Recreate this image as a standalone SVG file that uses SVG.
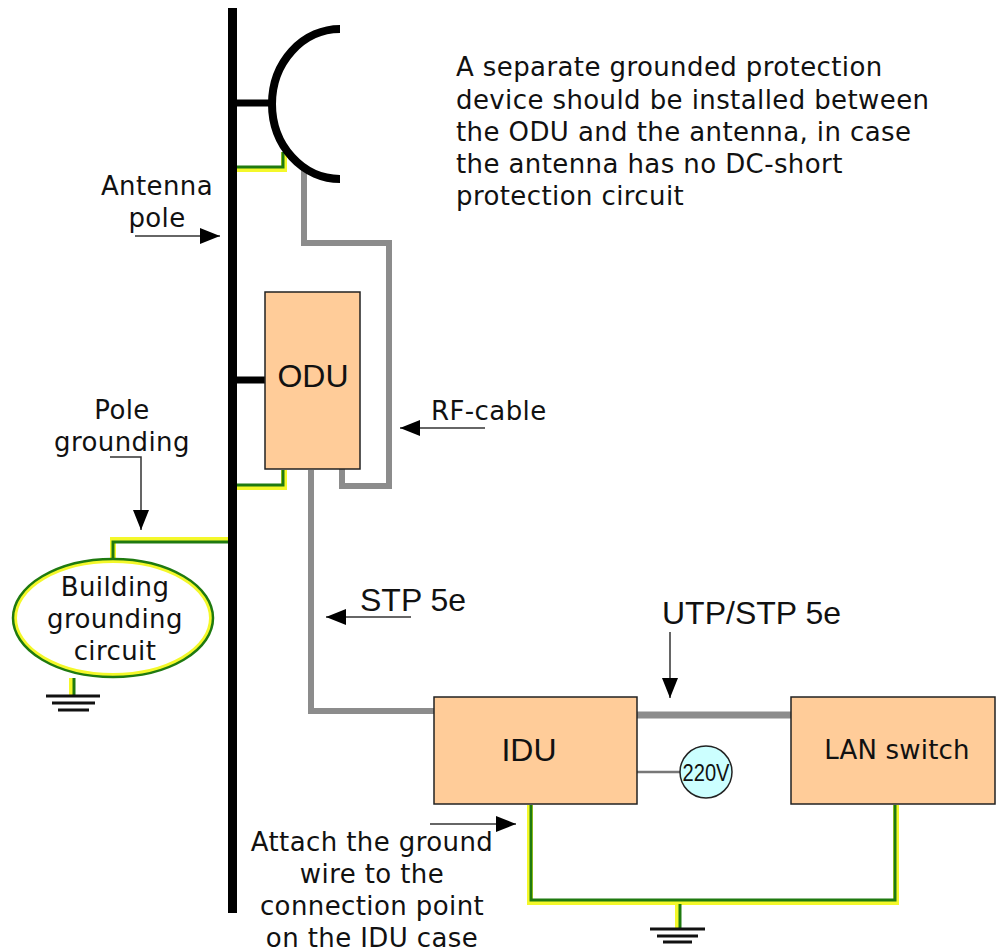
<svg xmlns="http://www.w3.org/2000/svg" width="998" height="952" viewBox="0 0 998 952">
<style>
text{font-family:"DejaVu Sans",sans-serif;font-size:26px;fill:#111;letter-spacing:.4px}
.m{text-anchor:middle}
.l{font-family:"Liberation Sans",Arial,sans-serif;letter-spacing:0}
.box{fill:#ffcc99;stroke:#222;stroke-width:1.5}
.blk{fill:none;stroke:#000;stroke-width:7}
.gry{fill:none;stroke:#8c8c8c;stroke-width:6}
.yel{fill:none;stroke:#f4f82a;stroke-width:6}
.grn{fill:none;stroke:#1f7a10;stroke-width:3}
.arr{fill:none;stroke:#333;stroke-width:1.5;marker-end:url(#a)}
.gnd{stroke:#111;stroke-width:3}
</style>
<defs>
<marker id="a" markerUnits="userSpaceOnUse" markerWidth="20" markerHeight="16" refX="20" refY="8" orient="auto"><path d="M0 0L20 8L0 16Z" fill="#000"/></marker>
</defs>
<rect width="998" height="952" fill="#fff"/>
<g id="connectors">
<path class="gry" d="M304 170V243H389V486H342V469"/>
<path class="gry" d="M311 470V711H434"/>
<path class="gry" d="M637 715H791" style="stroke-width:7"/>
<path d="M637 772H681" fill="none" stroke="#777" stroke-width="2.5"/>
<path class="yel" d="M237 169H284V152"/><path class="grn" d="M237 167H283V152"/>
<path class="yel" d="M237 487H284V470"/><path class="grn" d="M237 485H283V470"/>
<path class="yel" d="M228 540H113V560"/><path class="grn" d="M228 542H113V560"/>
<path class="yel" d="M72 678V696"/><path class="grn" d="M74 678V696"/>
<path class="yel" d="M530 805V902H896V805"/><path class="grn" d="M531 805V900H895V805"/>
<path class="yel" d="M678 904V929"/><path class="grn" d="M680 904V929"/>
<path class="arr" d="M135 236H220"/>
<path class="arr" d="M110 457H141V530"/>
<path class="arr" d="M485 428H400"/>
<path class="arr" d="M411 617H326"/>
<path class="arr" d="M670 632V698"/>
<path class="arr" d="M430 824H516"/>
</g>
<g id="pole"><path d="M232.500 8V913" stroke="#000" stroke-width="9" fill="none"/>
<path class="blk" d="M237 103H270M237 380H265"/></g>
<g id="antenna"><path d="M340 29A68 75 0 0 0 340 179" fill="none" stroke="#000" stroke-width="8"/></g>
<g id="odu"><rect class="box" x="265" y="292" width="95" height="177"/><text class="m l" x="313" y="387" style="font-size:32px">ODU</text></g>
<g id="idu"><rect class="box" x="434" y="697" width="203" height="107"/><text class="m l" x="529" y="761" style="font-size:32px">IDU</text></g>
<g id="lan"><rect class="box" x="791" y="697" width="204" height="107"/><text class="m" x="897" y="759" style="font-size:26px;letter-spacing:.2px">LAN switch</text></g>
<g id="v220"><circle cx="706" cy="772" r="26" fill="#ccffff" stroke="#222" stroke-width="1.5"/><text class="m l" x="706" y="781" style="font-size:24px" textLength="47" lengthAdjust="spacingAndGlyphs">220V</text></g>
<g id="building"><ellipse cx="113" cy="618" rx="98" ry="57" fill="#fff" stroke="#f4f82a" stroke-width="4"/><ellipse cx="113" cy="618" rx="100" ry="59" fill="none" stroke="#1f7a10" stroke-width="2.500"/>
<text class="m" x="115" y="596">Building</text><text class="m" x="115" y="628">grounding</text><text class="m" x="115" y="660">circuit</text></g>
<g id="ground1" class="gnd"><path d="M46 696H100M52 703H95M58 710H89"/></g>
<g id="ground2" class="gnd"><path d="M650 929H705M657 936H698M663 942H692"/></g>
<g id="labels">
<text x="456" y="76">A separate grounded protection</text>
<text x="456" y="109">device should be installed between</text>
<text x="456" y="141">the ODU and the antenna, in case</text>
<text x="456" y="173">the antenna has no DC-short</text>
<text x="456" y="205">protection circuit</text>
<text class="m" x="157" y="195">Antenna</text><text class="m" x="157" y="227">pole</text>
<text class="m" x="122" y="419">Pole</text><text class="m" x="122" y="451">grounding</text>
<text x="431" y="420">RF-cable</text>
<text class="l" x="360" y="611" style="font-size:32px">STP 5e</text>
<text class="l" x="662" y="624" style="font-size:32px">UTP/STP 5e</text>
<text class="m" x="372" y="851">Attach the ground</text><text class="m" x="372" y="883">wire to the</text><text class="m" x="372" y="915">connection point</text><text class="m" x="372" y="947">on the IDU case</text>
</g>
</svg>
